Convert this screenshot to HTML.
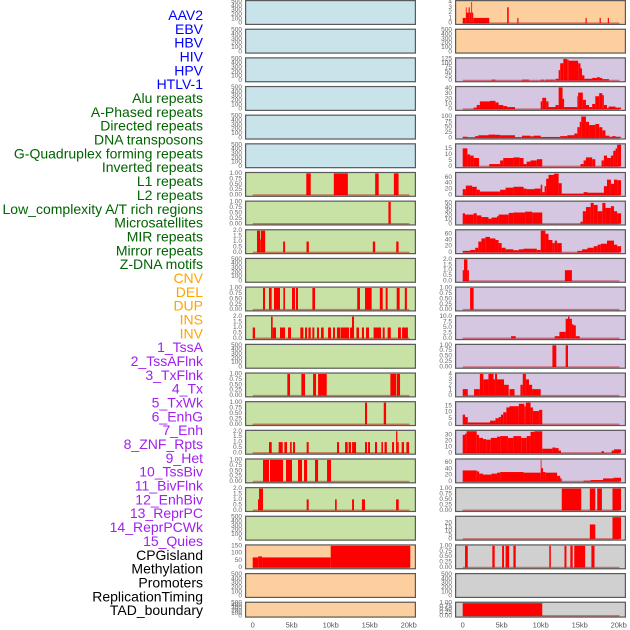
<!DOCTYPE html>
<html><head><meta charset="utf-8"><style>
html,body{margin:0;padding:0;background:#fff;}
svg{display:block;font-family:"Liberation Sans",sans-serif;}
</style></head><body>
<svg id="chart" width="630" height="630" viewBox="0 0 630 630" xmlns="http://www.w3.org/2000/svg"></svg>
<script>
// ---- row labels ----
const labelTexts = ["AAV2","EBV","HBV","HIV","HPV","HTLV-1","Alu repeats","A-Phased repeats","Directed repeats","DNA transposons","G-Quadruplex forming repeats","Inverted repeats","L1 repeats","L2 repeats","Low_complexity A/T rich regions","Microsatellites","MIR repeats","Mirror repeats","Z-DNA motifs","CNV","DEL","DUP","INS","INV","1_TssA","2_TssAFlnk","3_TxFlnk","4_Tx","5_TxWk","6_EnhG","7_Enh","8_ZNF_Rpts","9_Het","10_TssBiv","11_BivFlnk","12_EnhBiv","13_ReprPC","14_ReprPCWk","15_Quies","CPGisland","Methylation","Promoters","ReplicationTiming","TAD_boundary"];
const labelGroups = [0,0,0,0,0,0,1,1,1,1,1,1,1,1,1,1,1,1,1,2,2,2,2,2,3,3,3,3,3,3,3,3,3,3,3,3,3,3,3,4,4,4,4,4];
const xTickValues = [0,5,10,15,20];
const xTickLabels = ["0","5kb","10kb","15kb","20kb"];

// ---- tick sets ----
const ticksEmpty = [0,100,200,300,400,500];
const ticksOne = [0,0.25,0.5,0.75,1];
const ticksTwo = [0,0.5,1,1.5,2];

// ---- left column series (segments: [startKb, endKb, value]) ----
const segL7 = [[6.87,7.44,1],[10.4,12.2,1],[15.7,16.15,1],[18.1,18.7,1]];
const segL8 = [[17.4,17.7,1]];
const segL9 = [[0.55,0.95,2],[0.95,1.05,1.2],[1.05,1.6,2],[3.9,4.15,1],[6.9,7.2,1],[15.4,15.7,1],[18.4,18.7,1]];
const segL11 = [[1.32,1.58,1],[2.09,2.43,1],[2.73,3.5,1],[3.93,4.14,1],[5.04,5.42,1],[5.55,5.81,1],[7.65,7.99,1],[13.4,13.75,1],[14.4,15.25,1],[16.3,16.67,1],[17.05,17.3,1],[18.46,18.84,1],[19.5,19.77,1]];
const segL12 = [[0,0.3,1],[2.35,2.56,2],[2.56,2.99,1],[3.5,4.15,1],[4.53,4.91,1],[6.11,6.5,1],[6.71,6.97,1],[7.14,7.44,1],[7.65,7.9,1],[8.25,8.5,1],[8.76,9.1,1],[9.66,10.04,1],[10.3,10.55,1],[10.8,11.24,1],[11.3,12.35,1],[12.48,12.73,1],[12.73,12.99,2],[13.3,13.63,1],[14.0,14.27,1],[14.53,14.91,1],[15.5,16.45,1],[16.67,16.92,1],[17.3,17.7,1],[18.63,19.0,1],[19.15,19.9,1]];
const segL14 = [[4.44,4.79,1],[6.24,6.71,1],[7.74,8.12,1],[8.38,9.49,1],[17.65,18.38,1],[18.46,18.89,1]];
const segL15 = [[14.4,14.66,1],[16.8,17.1,1]];
const segL16 = [[2.09,2.44,1],[3.33,3.85,1],[4.06,4.4,1],[4.79,5.0,1],[5.17,5.43,1],[6.92,7.18,1],[10.81,11.07,1],[11.84,12.18,1],[12.3,12.6,1],[12.74,13.25,1],[14.4,14.66,1],[14.79,15.04,1],[15.68,15.94,1],[16.5,16.7,1],[16.9,17.2,1],[17.86,18.12,1],[18.38,18.55,2],[18.55,18.72,1],[19.1,19.4,1],[19.7,20.04,1]];
const segL17 = [[1.32,2.09,1],[2.22,3.89,1],[4.27,5.04,1],[5.81,6.32,1],[6.58,6.97,1],[7.99,8.38,1],[9.53,10.04,1]];
const segL18 = [[0.68,0.81,1],[0.81,1.32,2],[6.92,7.18,1],[10.56,10.77,1],[12.74,12.99,1],[14.0,14.4,1],[18.38,18.72,1]];
const segL20 = [[0,0.7,70],[0.7,1.2,77],[1.2,10,70],[10,20.2,150]];

// ---- right column series ----
const segR1 = [[0,0.4,1],[0.4,0.5,3],[0.5,0.75,2],[0.75,0.9,3],[0.9,1.1,2],[1.1,1.2,4],[1.2,1.35,2],[1.35,3.4,1],[5.7,5.9,3],[7.0,7.15,1],[15.75,15.9,1],[17.55,17.7,1],[18.6,18.75,1]];
const segR3 = [[3.7,4.2,5],[7.6,8.5,5],[10,10.4,5],[10.6,11.8,5],[11.9,12.3,10],[12.3,12.5,60],[12.5,12.9,100],[12.9,13.4,125],[13.4,13.6,120],[13.6,14.8,115],[14.8,15.1,100],[15.1,15.3,70],[15.3,15.6,30],[15.6,16.6,10],[16.6,17.25,15],[17.25,17.55,20],[17.55,17.9,15],[17.9,18.75,8]];
const segR4 = [[1.4,1.8,3],[1.8,2.2,8],[2.2,3.5,15],[3.5,4.2,16],[4.2,4.6,13],[4.6,5.2,8],[5.2,5.7,6],[5.7,6.7,4],[10,10.2,15],[10.2,10.7,22],[10.7,11,15],[11,11.9,4],[11.9,12.3,8],[12.3,12.8,42],[12.8,13,20],[13,14.7,4],[14.7,14.8,25],[14.8,15.4,32],[15.4,15.8,18],[15.8,16.2,8],[16.2,16.6,4],[16.6,17,10],[17,17.5,25],[17.5,17.9,31],[17.9,18.1,27],[18.1,18.5,8],[18.5,18.7,2],[18.7,19.6,5],[19.6,20.3,3]];
const segR5 = [[0,0.6,5],[0.6,1.6,2],[1.6,2,8],[2,3.3,12],[3.3,4.2,15],[4.2,4.8,14],[4.8,6.7,12],[6.7,7.6,3],[7.6,8.7,10],[8.7,9.1,7],[9.1,10,10],[10,12.5,4],[12.5,13.4,8],[13.4,14.3,12],[14.3,14.7,20],[14.7,15,50],[15,15.2,75],[15.2,15.8,100],[15.8,16.2,75],[16.2,17,60],[17,17.5,65],[17.5,17.9,50],[17.9,18.3,35],[18.3,18.8,10],[18.8,19.2,5],[19.2,19.6,8],[19.6,20.3,5]];
const segR6 = [[0,0.6,15],[0.6,0.95,10],[0.95,1.4,9],[1.4,2.1,7],[3.4,4.8,2],[4.8,5.2,5],[5.2,6.5,7],[6.5,7.3,7.5],[7.3,7.8,7],[7.8,8.2,2],[8.2,8.7,4],[8.7,9.5,5],[9.5,10.2,6],[15.1,15.5,2],[15.5,15.8,5],[15.8,16.6,7.5],[16.6,17,6],[17.8,18.1,5],[18.1,18.5,9],[18.5,19,7],[19,19.3,9],[19.3,19.6,13],[19.6,19.8,15],[19.8,20.3,18]];
const segR7 = [[0,0.4,20],[0.4,1.2,32],[1.2,1.8,28],[1.8,2.2,18],[2.2,4.8,12],[4.8,5.5,18],[5.5,6.5,25],[6.5,7.8,28],[7.8,8.2,22],[8.2,9.2,20],[9.2,10,22],[10,10.2,35],[10.2,10.5,10],[10.5,10.7,30],[10.7,11,55],[11,11.7,68],[11.7,12.3,72],[12.3,12.7,40],[12.7,15.5,5],[15.5,16,10],[16,18.1,8],[18.1,18.5,30],[18.5,19,52],[19,19.4,38],[19.4,19.8,52],[19.8,20.3,50]];
const segR8 = [[0,0.3,25],[0.3,1.4,22],[1.4,1.8,25],[1.8,2.4,20],[2.4,3.3,16],[3.3,3.7,12],[3.7,4.4,15],[4.4,4.6,18],[4.6,5.9,22],[5.9,6.5,26],[6.5,8,27],[8,8.9,29],[8.9,10.2,27],[15.1,15.4,5],[15.4,15.8,30],[15.8,16.4,40],[16.4,16.8,50],[16.8,17.3,45],[17.3,17.9,30],[17.9,18.3,50],[18.3,19,38],[19,19.4,42],[19.4,19.8,30],[19.8,20.3,25]];
const segR9 = [[0,0.95,5],[0.95,1.6,8],[1.6,2,15],[2,2.4,35],[2.4,2.9,45],[2.9,3.5,50],[3.5,4.2,45],[4.2,4.6,40],[4.6,5,30],[5,5.5,15],[5.5,6.5,10],[6.5,7.2,7],[7.2,7.8,10],[7.8,9.5,12],[9.5,10,8],[10,10.6,70],[10.6,11,60],[11,11.5,40],[11.5,11.8,30],[11.8,12.1,38],[12.1,12.7,30],[14.7,15.3,5],[15.3,16,10],[16,16.8,15],[16.8,17.3,20],[17.3,17.7,25],[17.7,18.5,28],[18.5,19.4,38],[19.4,19.8,25],[19.8,20.3,20]];
const segR10 = [[0,0.17,1],[0.17,0.6,2],[0.6,0.8,1],[13.1,14.0,1]];
const segR11 = [[0.95,1.4,1]];
const segR12 = [[6.2,6.8,1],[11.8,12.4,1],[12.4,13.2,3],[13.2,13.5,9],[13.5,13.7,10],[13.7,14,9],[14,14.2,6.5],[14.2,14.5,6],[14.5,15,1]];
const segR13 = [[11.5,12,1],[13.2,13.5,1]];
const segR14 = [[0,0.65,1.2],[1.45,2.2,1.2],[2.2,2.65,4],[2.65,3.3,3],[3.3,3.95,4],[3.95,4.15,3],[4.15,4.4,4],[4.4,5.3,3],[5.3,5.9,2],[6,6.65,1.2],[7.4,7.7,2],[7.7,8.1,4],[8.1,8.5,3],[8.5,8.9,2],[8.9,10,1.2]];
const segR15 = [[0,0.3,8],[0.3,0.65,6],[0.65,3.5,1.5],[3.5,4.2,3],[4.2,4.6,5],[4.6,4.9,6],[4.9,5.2,8],[5.2,5.6,10],[5.6,6,14],[6,7.2,15],[7.2,7.9,17],[7.9,8.1,15],[8.1,8.7,18],[8.7,9,14],[9,9.8,11],[9.8,10.2,12]];
const segR16 = [[0,0.3,30],[0.3,0.5,32],[0.5,1.8,36],[1.8,2.1,30],[2.1,2.6,25],[2.6,3,23],[3,3.6,22],[3.6,4.4,25],[4.4,4.8,27],[4.8,5.8,28],[5.8,6.5,25],[6.5,7.5,28],[7.5,8.2,25],[8.2,8.7,28],[8.7,9.2,35],[9.2,10.2,36],[10.2,11.5,7],[11.5,11.9,9],[11.9,12.3,8],[12.3,12.6,4],[17.8,18.1,3],[19.1,19.4,4],[19.4,20.3,6]];
const segR17 = [[0,1.8,35],[1.8,2.1,32],[2.1,2.6,25],[2.6,3.7,22],[3.7,4.4,25],[4.4,4.8,28],[4.8,7.8,30],[7.8,10,28],[10,10.1,68],[10.1,10.3,42],[10.3,10.6,30],[10.6,12.1,28],[12.1,12.5,18],[12.5,12.7,10],[15.5,16.4,3],[16.4,18,5],[18,19.3,10],[19.3,20.3,12]];
const segR18 = [[12.7,15.2,1],[16.3,17.0,1],[17.25,17.85,1],[19.2,20.3,1]];
const segR19 = [[16.3,17,18],[19.2,20.3,27]];
const segR20 = [[0.3,0.65,1],[3.8,4.1,1],[5.05,5.3,1],[5.5,5.95,1],[6.5,6.8,1],[11.1,11.3,1],[13.05,13.3,1],[13.8,14.1,1],[14.3,15.7,1],[16.5,16.9,1]];
const segR22 = [[0,10.2,1]];

const BLUE="#c9e3eb", GREEN="#c8e2a5", ORANGE="#fecf9e", PURPLE="#d5c6e2", GRAY="#d0d0d0";
const labelColors = ["#0000ff","#006400","#ffa500","#a020f0","#000000"];

// panels: [col,row,bg,ymax,ticks,segments,name]
const panels = [
 [0,0,BLUE,500,ticksEmpty,null,"aav2"],[0,1,BLUE,500,ticksEmpty,null,"ebv"],[0,2,BLUE,500,ticksEmpty,null,"hbv"],
 [0,3,BLUE,500,ticksEmpty,null,"hiv"],[0,4,BLUE,500,ticksEmpty,null,"hpv"],[0,5,BLUE,500,ticksEmpty,null,"htlv1"],
 [0,6,GREEN,1,ticksOne,segL7,"l1"],[0,7,GREEN,1,ticksOne,segL8,"l2"],[0,8,GREEN,2,ticksTwo,segL9,"low-complexity"],
 [0,9,GREEN,500,ticksEmpty,null,"microsatellites"],[0,10,GREEN,1,ticksOne,segL11,"cnv"],[0,11,GREEN,2,ticksTwo,segL12,"ins"],
 [0,12,GREEN,500,ticksEmpty,null,"tssa"],[0,13,GREEN,1,ticksOne,segL14,"txflnk"],[0,14,GREEN,1,ticksOne,segL15,"txwk"],
 [0,15,GREEN,2,ticksTwo,segL16,"enh"],[0,16,GREEN,1,ticksOne,segL17,"tssbiv"],[0,17,GREEN,2,ticksTwo,segL18,"enhbiv"],
 [0,18,GREEN,500,ticksEmpty,null,"reprpcwk"],[0,19,ORANGE,150,[0,50,100,150],segL20,"cpgisland"],
 [0,20,ORANGE,500,ticksEmpty,null,"promoters"],[0,21,ORANGE,500,ticksEmpty,null,"tad"],
 [1,0,ORANGE,4.1,[0,1,2,3,4],segR1,"aav2-r"],[1,1,ORANGE,500,ticksEmpty,null,"ebv-r"],
 [1,2,PURPLE,126,[0,25,50,75,100,125],segR3,"hiv-r"],[1,3,PURPLE,42,[0,10,20,30,40],segR4,"alu-r"],
 [1,4,PURPLE,102,[0,25,50,75,100],segR5,"directed-r"],[1,5,PURPLE,18,[0,5,10,15],segR6,"dna-transposons-r"],
 [1,6,PURPLE,73,[0,20,40,60],segR7,"gquad-r"],[1,7,PURPLE,52,[0,10,20,30,40,50],segR8,"inverted-r"],
 [1,8,PURPLE,70,[0,20,40,60],segR9,"l1-r"],[1,9,PURPLE,2,ticksTwo,segR10,"low-complexity-r"],
 [1,10,PURPLE,1,ticksOne,segR11,"mir-r"],[1,11,PURPLE,10,[0,2.5,5,7.5,10],segR12,"zdna-r"],
 [1,12,PURPLE,1,ticksOne,segR13,"del-r"],[1,13,PURPLE,4,[0,1,2,3,4],segR14,"ins-r"],
 [1,14,PURPLE,18,[0,5,10,15],segR15,"tssa-r"],[1,15,PURPLE,36,[0,10,20,30],segR16,"txflnk-r"],
 [1,16,PURPLE,68,[0,20,40,60],segR17,"txwk-r"],[1,17,GRAY,1,ticksOne,segR18,"enh-r"],
 [1,18,GRAY,27,[0,5,10,15,20],segR19,"het-r"],[1,19,GRAY,1,ticksOne,segR20,"bivflnk-r"],
 [1,20,GRAY,500,ticksEmpty,null,"reprpc-r"],[1,21,GRAY,1,ticksOne,segR22,"tad-r"]
];

const NS="http://www.w3.org/2000/svg";
const svg=document.getElementById('chart');
function mk(tag,attrs,parent){const e=document.createElementNS(NS,tag);for(const k in attrs)e.setAttribute(k,attrs[k]);(parent||svg).appendChild(e);return e;}
function fmtTick(v,ticks){
  const mx=ticks[ticks.length-1];
  if(mx===1) return v.toFixed(2);
  if(mx===2) return v.toFixed(1);
  if(ticks.some(t=>t%1!==0)) return v.toFixed(1);
  return String(v);
}

// labels
labelTexts.forEach((t,i)=>{
  const el=mk('text',{x:203,y:15+i*13.84,'text-anchor':'end','dominant-baseline':'central','font-size':'14',fill:labelColors[labelGroups[i]]});
  el.textContent=t;
  
  
});

panels.forEach(p=>{
  const [col,row,bg,ymax,ticks,segs,name]=p;
  const x0=col?455:245, w=171, top=row*28.65, h=(row===21)?16:25;
  const xs=kb=>x0+7.7+kb*7.8;
  const y0=top+h-1.8, yTop=top+1.5;
  const ys=v=>y0-(v/ymax)*(y0-yTop);
  const g=mk('g',{});
  
  
  const r=mk('rect',{x:x0,y:top,width:w,height:h,fill:bg},g);
  
  
  // y ticks
  ticks.forEach(t=>{
    const tl=mk('text',{x:x0-3,y:ys(t),'text-anchor':'end','dominant-baseline':'central','font-size':'6.5',fill:'#666'},g);
    tl.textContent=fmtTick(t,ticks);
    
    
  });
  if(segs){
    segs.forEach(s=>{
      const b=mk('rect',{x:xs(s[0]),y:ys(s[2]),width:Math.max(0.8,xs(s[1])-xs(s[0])),height:y0-ys(s[2]),fill:'#ff0000'},g);
      
      
    });
    const bl=mk('line',{x1:xs(0),x2:xs(20.1),y1:y0,y2:y0,stroke:'rgba(190,0,0,0.45)','stroke-width':1.6},g);
    
    
  }
  const bd=mk('rect',{x:x0+0.6,y:top+0.6,width:w-1.2,height:h-1.2,fill:'none',stroke:'#5a5a5a','stroke-width':1.2},g);
  
  
});

// x-axis tick labels
[0,1].forEach(col=>{
  const x0=col?455:245;
  xTickValues.forEach((v,i)=>{
    const t=mk('text',{x:x0+7.7+v*7.8,y:625,'text-anchor':'middle','dominant-baseline':'central','font-size':'7.5',fill:'#555'});
    t.textContent=xTickLabels[i];
    
    
  });
});
</script>
</body></html>
